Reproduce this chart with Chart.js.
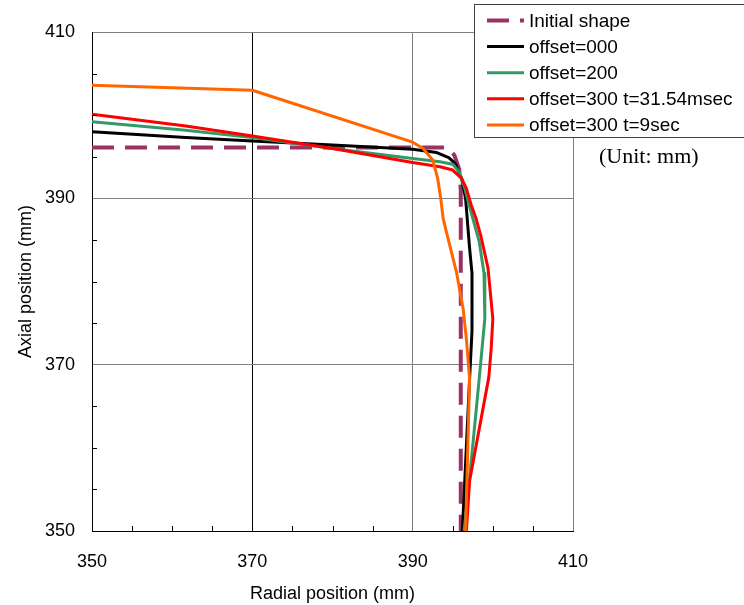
<!DOCTYPE html>
<html>
<head>
<meta charset="utf-8">
<script src="https://cdn.jsdelivr.net/npm/chart.js@4"></script>
<style>
  html, body { margin: 0; padding: 0; background: #fff; }
  #wrap { width: 744px; height: 605px; }
</style>
</head>
<body>
<div id="wrap"><canvas id="shapeChart" width="744" height="605"></canvas></div>
<script>
// values (radial x, axial y, mm)
const seriesLabels = ["Initial shape", "offset=000", "offset=200", "offset=300 t=31.54msec", "offset=300 t=9sec"];

const initialX = [350, 394.3, 395.2, 395.8, 396, 396];
const initialY = [396.1, 396.1, 395.2, 393.5, 391, 350];

const off000X = [350, 361.7, 370, 380, 390, 393, 394.5, 395.3, 396.1, 396.6, 397.1, 397.4, 397.4, 397.1, 396.2];
const off000Y = [398.0, 397.3, 396.9, 396.4, 395.9, 395.5, 394.9, 394.2, 392.4, 390, 384, 381, 374, 368.3, 350];

const off200X = [350, 361.7, 370, 380, 390, 393.4, 395, 395.8, 396.5, 397.1, 398.3, 398.9, 399.0, 398.3, 396.7, 396.4];
const off200Y = [399.2, 398.2, 397.3, 396.0, 394.8, 394.4, 394.1, 393.2, 391.2, 389, 384.8, 381, 375.5, 368.3, 352.4, 350];

const off300aX = [350, 361.7, 370, 380, 390, 393.4, 395, 396.1, 396.7, 397.3, 397.9, 398.5, 399.4, 400.0, 399.8, 399.5, 397.1, 396.7];
const off300aY = [400.1, 398.7, 397.5, 396.0, 394.3, 393.8, 393.4, 392.4, 391.2, 389.2, 387.6, 385.5, 381.6, 375.5, 372, 368.5, 356, 350];

const off300bX = [350, 370, 390, 391.3, 392.5, 393.1, 393.5, 393.8, 394.2, 395.45, 396.3, 396.7, 397.1, 396.6];
const off300bY = [403.6, 403.0, 396.75, 396.0, 394.6, 392.5, 390, 387.6, 386, 381.2, 376.7, 373.1, 368.3, 350];

const axisMin = 350;
const axisMax = 410;

function toPoints(xs, ys) {
  return xs.map((x, i) => ({ x: x, y: ys[i] }));
}

// short inside ticks every 5 mm + the unit note + the boxed legend
const extrasPlugin = {
  id: "extras",
  afterDraw(chart) {
    const c = chart.ctx;
    const a = chart.chartArea;
    const xs = chart.scales.x;
    const ys = chart.scales.y;
    c.save();
    c.strokeStyle = "#000";
    c.lineWidth = 1;
    for (let v = axisMin + 5; v < axisMax; v += 5) {
      if (v % 20 === 10) continue;
      const px = Math.round(xs.getPixelForValue(v)) + 0.5;
      c.beginPath(); c.moveTo(px, a.bottom); c.lineTo(px, a.bottom - 5); c.stroke();
      const py = Math.round(ys.getPixelForValue(v)) + 0.5;
      c.beginPath(); c.moveTo(a.left, py); c.lineTo(a.left + 5, py); c.stroke();
    }

    c.fillStyle = "#000";
    c.font = "22px 'Liberation Serif'";
    c.textAlign = "left";
    c.textBaseline = "middle";
    c.fillText("(Unit: mm)", 599, 157);

    // legend
    c.fillStyle = "#fff";
    c.fillRect(474.5, 4.5, 300, 133);
    c.strokeStyle = "#404040";
    c.lineWidth = 1;
    c.strokeRect(474.5, 4.5, 300, 133);
    c.font = "19px 'Liberation Sans'";
    chart.data.datasets.forEach((ds, i) => {
      const y = 20.5 + i * 26.1;
      c.strokeStyle = ds.borderColor;
      c.lineWidth = ds.legendWidth;
      c.setLineDash(ds.borderDash || []);
      c.beginPath(); c.moveTo(487, y); c.lineTo(524, y); c.stroke();
      c.setLineDash([]);
      c.fillStyle = "#000";
      c.fillText(ds.label, 529, y + 1);
    });
    c.restore();
  }
};

Chart.defaults.font.family = "'Liberation Sans', Arial, sans-serif";
Chart.defaults.color = "#000";

const ctx = document.getElementById("shapeChart").getContext("2d");
const shapeChart = new Chart(ctx, {
  type: "scatter",
  data: {
    datasets: [
      {
        label: seriesLabels[0],
        data: toPoints(initialX, initialY),
        borderColor: "#993366",
        borderWidth: 4,
        legendWidth: 4,
        borderDash: [22, 11],
        order: 5,
      },
      {
        label: seriesLabels[1],
        data: toPoints(off000X, off000Y),
        borderColor: "#000000",
        borderWidth: 3,
        legendWidth: 3,
        order: 4,
      },
      {
        label: seriesLabels[2],
        data: toPoints(off200X, off200Y),
        borderColor: "#339966",
        borderWidth: 3,
        legendWidth: 3,
        order: 3,
      },
      {
        label: seriesLabels[3],
        data: toPoints(off300aX, off300aY),
        borderColor: "#ff0000",
        borderWidth: 3,
        legendWidth: 3,
        order: 2,
      },
      {
        label: seriesLabels[4],
        data: toPoints(off300bX, off300bY),
        borderColor: "#ff6600",
        borderWidth: 3,
        legendWidth: 3,
        order: 1,
      },
    ],
  },
  options: {
    responsive: false,
    animation: false,
    showLine: true,
    elements: {
      point: { radius: 0, hoverRadius: 0 },
      line: { tension: 0, borderJoinStyle: "round", borderCapStyle: "butt" },
    },
    layout: {
      padding: { top: 32, right: 171, left: 0, bottom: 0 },
    },
    plugins: {
      legend: { display: false },
      tooltip: { enabled: false },
    },
    scales: {
      x: {
        type: "linear",
        min: axisMin,
        max: axisMax,
        afterFit: function (scale) {
          scale.height = 74;
        },
        ticks: {
          stepSize: 5,
          autoSkip: false,
          maxRotation: 0,
          padding: 20,
          font: { size: 18 },
          callback: function (value) {
            return value % 20 === 10 ? value : "";
          },
        },
        grid: {
          drawTicks: false,
          color: function (c) {
            const v = c.tick.value;
            if (v === 370) return "#000";
            if (v === 390 || v === 410) return "#808080";
            return "rgba(0,0,0,0)";
          },
        },
        border: { color: "#000", width: 1 },
        title: {
          display: true,
          text: "Radial position (mm)",
          font: { size: 18 },
          padding: { top: 1, bottom: 0 },
        },
      },
      y: {
        type: "linear",
        min: axisMin,
        max: axisMax,
        afterFit: function (scale) {
          scale.width = 92;
        },
        ticks: {
          stepSize: 5,
          autoSkip: false,
          padding: 17,
          font: { size: 18 },
          callback: function (value) {
            return value % 20 === 10 ? value : "";
          },
        },
        grid: {
          drawTicks: false,
          color: function (c) {
            const v = c.tick.value;
            if (v === 370 || v === 390 || v === 410) return "#808080";
            return "rgba(0,0,0,0)";
          },
        },
        border: { color: "#000", width: 1 },
        title: {
          display: true,
          text: "Axial position (mm)",
          font: { size: 18 },
          padding: { top: 15, bottom: 0 },
        },
      },
    },
  },
  plugins: [extrasPlugin],
});
</script>
</body>
</html>
